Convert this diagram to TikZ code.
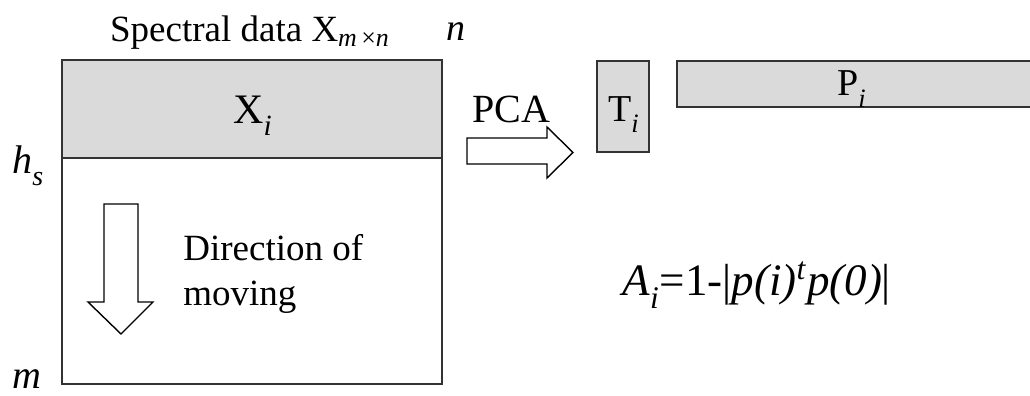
\documentclass[tikz,border=0pt]{standalone}
\usepackage{fontspec}
\setmainfont{Liberation Serif}
\definecolor{linec}{HTML}{333333}
\definecolor{grayf}{HTML}{DADADA}
\newcommand{\dsub}[1]{\raisebox{-0.35ex}{\textsubscript{#1}}}
\begin{document}
\begin{tikzpicture}[x=0.5pt,y=-0.5pt,
  box/.style={draw=linec, line width=1.2pt},
  thinbox/.style={draw=linec, line width=0.9pt, fill=grayf},
  bigarrow/.style={draw=black, line width=0.7pt, fill=white, line join=miter},
  lbl/.style={inner sep=0pt, anchor=base},
  lblw/.style={inner sep=0pt, anchor=base west}]
\useasboundingbox (0,0) rectangle (1030,396);
% main matrix
\coordinate (mainNW) at (62,60);
\coordinate (mainSE) at (442,384);
\coordinate (bandSE) at (442,158);
\coordinate (bandW) at (62,158);
\fill[grayf] (mainNW) rectangle (bandSE);
\draw[box] (mainNW) rectangle (mainSE);
\draw[box] (bandW) -- (bandSE);
% T and P boxes
\coordinate (tNW) at (597,61);
\coordinate (tSE) at (649,152);
\draw[thinbox] (tNW) rectangle (tSE);
\coordinate (pNW) at (677,61);
\coordinate (pSE) at (1045,107);
\draw[thinbox] (pNW) rectangle (pSE);
% PCA arrow
\draw[bigarrow] (467,138) -- (547,138) -- (547,127) -- (573,152.5) -- (547,178) -- (547,164) -- (467,164) -- cycle;
% moving arrow
\draw[bigarrow] (104,204) -- (138,204) -- (138,302) -- (153,302) -- (121,334) -- (88,302) -- (104,302) -- cycle;
% labels
\node[lbl, font=\fontsize{18.5}{22}\selectfont] (title) at (250,41) {Spectral data X\textsubscript{\textit{m}\,×\textit{n}}};
\node[lbl, font=\fontsize{19}{22}\selectfont\itshape] (nlab) at (456,40) {n};
\node[lbl, font=\fontsize{21}{24}\selectfont] (xi) at (253,123) {X\dsub{\textit{i}}};
\node[lbl, font=\fontsize{20}{22}\selectfont] (pca) at (511,122) {PCA};
\node[lbl, font=\fontsize{19}{22}\selectfont] (ti) at (624,121) {T\dsub{\textit{i}}};
\node[lbl, font=\fontsize{19}{22}\selectfont] (pi) at (852,96) {P\dsub{\textit{i}}};
\node[lblw, font=\fontsize{18.5}{22}\selectfont] (dir1) at (183,260) {Direction of};
\node[lblw, font=\fontsize{18.5}{22}\selectfont] (dir2) at (183,305) {moving};
\node[lblw, font=\fontsize{20}{24}\selectfont\itshape] (hs) at (12,173) {h\dsub{s}};
\node[lblw, font=\fontsize{20}{24}\selectfont\itshape] (mlab) at (12,388) {m};
\node[lblw, font=\fontsize{22.5}{26}\selectfont] (formula) at (622,295) {\textit{A}\dsub{\textit{i}}=1-|\textit{p(i)}\textsuperscript{\textit{t}}\textit{p(0)}|};
\end{tikzpicture}
\end{document}
